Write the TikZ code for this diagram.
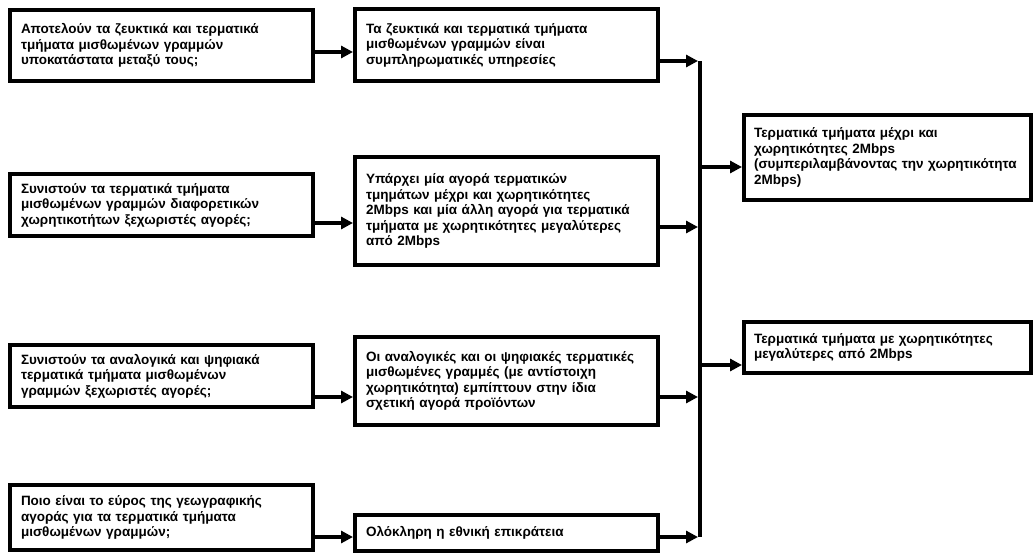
\documentclass[tikz,border=0pt]{standalone}
\usepackage{fontspec}
\setmainfont{Liberation Sans}
\usetikzlibrary{arrows.meta}
\tikzset{
	boxstyle/.style={rectangle,draw=black,line width=4pt,fill=white,align=left,inner xsep=11pt,inner ysep=3pt,text width=281pt},
	widestyle/.style={boxstyle,inner xsep=10pt,text width=267pt},
	arrowstyle/.style={line width=4pt,-{Triangle[length=12pt,width=12pt]}},
	busstyle/.style={line width=4pt}
}

\begin{document}
\begin{tikzpicture}[x=1pt,y=-1pt]
	\fontsize{13.5}{15.5}\selectfont\bfseries
	\useasboundingbox (0,0) rectangle (1034,554);
	% questions
	\node[boxstyle,minimum height=71pt] (q1) at (161.5,45.5) {Αποτελούν τα ζευκτικά και τερματικά\\τμήματα μισθωμένων γραμμών\\υποκατάστατα μεταξύ τους;};
	\node[boxstyle,minimum height=62pt] (q2) at (161.5,205) {Συνιστούν τα τερματικά τμήματα\\μισθωμένων γραμμών διαφορετικών\\χωρητικοτήτων ξεχωριστές αγορές;};
	\node[boxstyle,minimum height=62pt] (q3) at (161.5,376) {Συνιστούν τα αναλογικά και ψηφιακά\\τερματικά τμήματα μισθωμένων\\γραμμών ξεχωριστές αγορές;};
	\node[boxstyle,minimum height=65pt] (q4) at (161.5,517.5) {Ποιο είναι το εύρος της γεωγραφικής\\αγοράς για τα τερματικά τμήματα\\μισθωμένων γραμμών;};
	% answers
	\node[boxstyle,minimum height=72pt] (a1) at (506.5,45) {Τα ζευκτικά και τερματικά τμήματα\\μισθωμένων γραμμών είναι\\συμπληρωματικές υπηρεσίες};
	\node[boxstyle,minimum height=108pt] (a2) at (506.5,211) {Υπάρχει μία αγορά τερματικών\\τμημάτων μέχρι και χωρητικότητες\\2Mbps και μία άλλη αγορά για τερματικά\\τμήματα με χωρητικότητες μεγαλύτερες\\από 2Mbps};
	\node[boxstyle,minimum height=88pt] (a3) at (506.5,381) {Οι αναλογικές και οι ψηφιακές τερματικές\\μισθωμένες γραμμές (με αντίστοιχη\\χωρητικότητα) εμπίπτουν στην ίδια\\σχετική αγορά προϊόντων};
	\node[boxstyle,minimum height=36pt] (a4) at (506.5,533) {Ολόκληρη η εθνική επικράτεια};
	% markets
	\node[widestyle,minimum height=85pt] (m1) at (887.5,157.5) {Τερματικά τμήματα μέχρι και\\χωρητικότητες 2Mbps\\(συμπεριλαμβάνοντας την χωρητικότητα\\2Mbps)};
	\node[widestyle,minimum height=51pt] (m2) at (887.5,347.5) {Τερματικά τμήματα με χωρητικότητες\\μεγαλύτερες από 2Mbps};
	% arrow heights
	\coordinate (h1) at (0,52);
	\coordinate (h2) at (0,223);
	\coordinate (h3) at (0,397);
	\coordinate (h4) at (0,537);
	\coordinate (j1) at (700,61);
	\coordinate (j2) at (700,227);
	\coordinate (j3) at (700,397);
	\coordinate (j4) at (700,537);
	\coordinate (k1) at (700,167);
	\coordinate (k2) at (700,365);
	\draw[busstyle] (j1)--(j4);
	\draw[arrowstyle] (q1.east |- h1)--(a1.west |- h1);
	\draw[arrowstyle] (q2.east |- h2)--(a2.west |- h2);
	\draw[arrowstyle] (q3.east |- h3)--(a3.west |- h3);
	\draw[arrowstyle] (q4.east |- h4)--(a4.west |- h4);
	\draw[arrowstyle,shorten >=2pt] (a1.east |- j1)--(j1);
	\draw[arrowstyle,shorten >=2pt] (a2.east |- j2)--(j2);
	\draw[arrowstyle,shorten >=2pt] (a3.east |- j3)--(j3);
	\draw[arrowstyle,shorten >=2pt] (a4.east |- j4)--(j4);
	\draw[arrowstyle] (k1)--(m1.west |- k1);
	\draw[arrowstyle] (k2)--(m2.west |- k2);
\end{tikzpicture}
\end{document}
